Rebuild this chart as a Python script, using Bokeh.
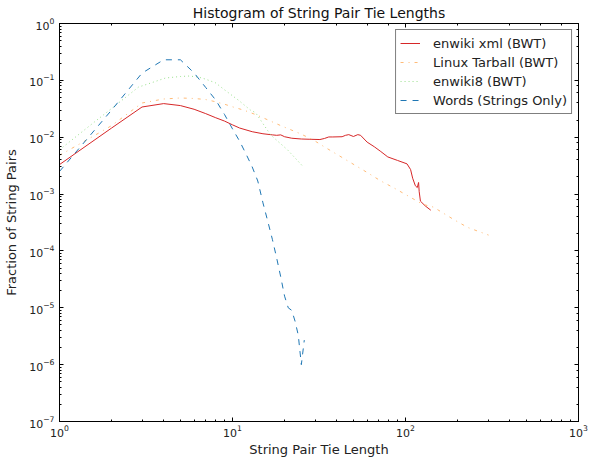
from bokeh.plotting import figure
from bokeh.models import Range1d, LogAxis, Legend, LegendItem
from bokeh.embed import file_html
from bokeh.resources import INLINE

# enwiki xml (BWT)
red_x = [1, 2, 3, 4, 5, 6, 7, 8, 9, 10, 11, 13, 15, 17, 18, 19, 20, 22, 25, 28, 32, 34, 36,
         38, 43, 45, 47, 50, 53, 55, 60, 66, 72, 79, 90, 102, 107, 110, 114, 117, 119, 120,
         122, 130, 140]
red_y = [0.0033, 0.0145, 0.034, 0.039, 0.036, 0.031, 0.026, 0.022, 0.0192, 0.0165, 0.0145,
         0.0125, 0.0115, 0.011, 0.0108, 0.011, 0.0102, 0.0096, 0.0093, 0.0092, 0.0091,
         0.0095, 0.0101, 0.0101, 0.0102, 0.0108, 0.0111, 0.0103, 0.0111, 0.0108, 0.0082,
         0.0068, 0.0056, 0.0045, 0.0039, 0.0034, 0.0027, 0.0019, 0.0014, 0.0013, 0.0016,
         0.0011, 0.00075, 0.00062, 0.00052]

# Linux Tarball (BWT)
orange_x = [1, 1.7, 2, 3, 4, 5, 6, 7, 8, 9, 10.4, 11.6, 13.6, 15, 19, 24.7, 29.4, 33.6, 41,
            48, 60, 72, 85, 104, 126, 145, 189, 228, 302]
orange_y = [0.0048, 0.012, 0.016, 0.040, 0.047, 0.049, 0.048, 0.046, 0.042, 0.038, 0.033,
            0.030, 0.025, 0.022, 0.016, 0.0115, 0.0089, 0.0069, 0.0048, 0.0036, 0.0024,
            0.0017, 0.0013, 0.00092, 0.00066, 0.00059, 0.00036, 0.00026, 0.00019]

# enwiki8 (BWT)
green_x = [1, 1.47, 2, 2.86, 4.1, 5, 5.6, 6.3, 7, 8, 9, 10.8, 12.7, 13.6, 16.6, 20.8, 25.7]
green_y = [0.006, 0.0153, 0.032, 0.076, 0.11, 0.117, 0.119, 0.115, 0.105, 0.09, 0.068,
           0.045, 0.03, 0.027, 0.011, 0.006, 0.003]

# Words (Strings Only)
blue_x = [1, 2, 3, 4, 5, 6, 7, 8, 9, 10, 11, 12, 13, 14, 15, 16, 17, 18, 19, 20, 21, 22,
          23, 24, 25, 26]
blue_y = [0.0025, 0.03, 0.134, 0.23, 0.23, 0.135, 0.075, 0.045, 0.025, 0.014, 0.0085,
          0.005, 0.003, 0.0017, 0.0007, 0.00033, 0.00016, 7.5e-5, 3.5e-5, 1.6e-5, 1e-5,
          9e-6, 5.8e-6, 3.3e-6, 1e-6, 2.7e-6]

title_text = "Histogram of String Pair Tie Lengths"
x_label = "String Pair Tie Length"
y_label = "Fraction of String Pairs"

FONT = "DejaVu Sans"

p = figure(width=594, height=459, x_axis_type="log", y_axis_type="log",
           x_range=Range1d(1, 1000), y_range=Range1d(1e-7, 1),
           output_backend="svg", toolbar_location=None,
           min_border_left=59, min_border_right=16, min_border_top=23,
           min_border_bottom=35)

p.title.text = title_text
p.title.text_font = FONT
p.title.text_font_size = "14px"
p.title.text_font_style = "normal"
p.title.text_color = "#111111"
p.title.align = "center"
p.title.standoff = 5

p.xgrid.visible = False
p.ygrid.visible = False
p.outline_line_color = "black"
p.outline_line_alpha = 1
p.outline_line_width = 1

for ax in (p.xaxis[0], p.yaxis[0]):
    ax.major_tick_in = 4
    ax.major_tick_out = 0
    ax.minor_tick_in = 2
    ax.minor_tick_out = 0
    ax.axis_line_color = "black"
    ax.major_tick_line_color = "black"
    ax.minor_tick_line_color = "black"
    ax.major_label_text_font = FONT
    ax.major_label_text_font_size = "11px"
    ax.major_label_text_color = "#222222"
    ax.axis_label_text_font = FONT
    ax.axis_label_text_font_size = "13px"
    ax.axis_label_text_font_style = "normal"
    ax.axis_label_text_color = "#222222"

p.xaxis[0].major_label_standoff = 3
p.xaxis[0].axis_label_standoff = 2
p.yaxis[0].major_label_standoff = 5
p.yaxis[0].axis_label_standoff = 7

p.xaxis[0].axis_label = x_label
p.yaxis[0].axis_label = y_label

for loc in ("right", "above"):
    ax = LogAxis(major_tick_in=4, major_tick_out=0, minor_tick_in=2, minor_tick_out=0,
                 major_label_text_font_size="2px", major_label_text_alpha=0,
                 major_label_standoff=0, axis_line_color="black")
    p.add_layout(ax, loc)

r_red = p.line(red_x, red_y, line_color="#d62728", line_width=1)
r_orange = p.line(orange_x, orange_y, line_color="#ffbb78", line_width=1,
                  line_dash="3 5 1 5")
r_green = p.line(green_x, green_y, line_color="#98df8a", line_width=1,
                 line_dash="1 3")
r_blue = p.line(blue_x, blue_y, line_color="#1f77b4", line_width=1,
                line_dash="6 6")

legend = Legend(items=[
    LegendItem(label="enwiki xml (BWT)", renderers=[r_red]),
    LegendItem(label="Linux Tarball (BWT)", renderers=[r_orange]),
    LegendItem(label="enwiki8 (BWT)", renderers=[r_green]),
    LegendItem(label="Words (Strings Only)", renderers=[r_blue]),
], location="top_right")
legend.label_text_font = FONT
legend.label_text_font_size = "13px"
legend.label_text_color = "#222222"
legend.border_line_color = "black"
legend.border_line_width = 1
legend.margin = 6
legend.padding = 4
legend.spacing = 1
legend.glyph_width = 20
legend.glyph_height = 18
legend.label_height = 18
legend.label_standoff = 13
p.add_layout(legend)

open("out.html", "w").write(file_html(p, INLINE))
